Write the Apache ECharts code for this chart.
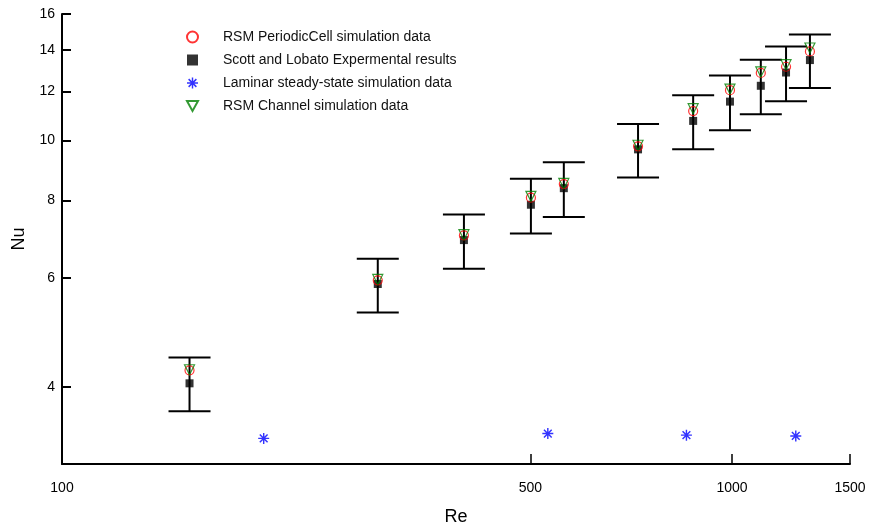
<!DOCTYPE html>
<html>
<head>
<meta charset="utf-8">
<script src="https://cdn.jsdelivr.net/npm/echarts@6/dist/echarts.min.js"></script>
<style>
  html, body { margin: 0; padding: 0; background: #fff; }
  #chart { width: 871px; height: 526px; }
</style>
</head>
<body>
<div id="chart"></div>
<script>
// Reynolds numbers of the measured / simulated cases
const reValues = [155, 296, 398, 501, 561, 724, 875, 993, 1104, 1204, 1307];
// Scott and Lobato experiments, with their uncertainty band
const nuExperiment = [4.05, 5.86, 6.90, 7.87, 8.37, 9.67, 10.75, 11.55, 12.25, 12.87, 13.48];
const nuExpLow = [3.65, 5.27, 6.20, 7.07, 7.52, 8.71, 9.67, 10.38, 11.02, 11.57, 12.15];
const nuExpHigh = [4.46, 6.44, 7.59, 8.67, 9.22, 10.63, 11.83, 12.73, 13.49, 14.18, 14.83];
// RSM simulations
const nuPeriodicCell = [4.25, 5.94, 7.02, 8.08, 8.50, 9.78, 11.15, 12.05, 12.85, 13.15, 13.92];
const nuChannel = [4.26, 5.96, 7.04, 8.12, 8.52, 9.82, 11.25, 12.10, 12.90, 13.25, 14.10];
// Laminar steady-state simulations
const reLaminar = [200, 531, 855, 1245];
const nuLaminar = [3.30, 3.36, 3.34, 3.33];

// Axis ticks
const xTickLabels = [100, 500, 1000, 1500];
const xTickMarks = [500, 1000, 1500];
const yTickLabels = [4, 6, 8, 10, 12, 14, 16];

const font = '"Liberation Sans", Arial, sans-serif';
const asterisk = 'path://M8.7 0H11.3V20H8.7Z M0 8.7H20V11.3H0Z M2 3.9L3.9 2L18 16.1L16.1 18Z M16.1 2L18 3.9L3.9 18L2 16.1Z';
const downTriangle = 'path://M0 0L20 0L10 18Z';

const zip = (a, b) => a.map((v, i) => [v, b[i]]);

const chart = echarts.init(document.getElementById('chart'), null, { renderer: 'canvas' });

chart.setOption({
  animation: false,
  backgroundColor: '#fff',
  grid: { left: 62, right: 21, top: 14, bottom: 62, containLabel: false, outerBoundsMode: 'none' },
  legend: {
    data: [
      { name: 'RSM PeriodicCell simulation data' },
      { name: 'Scott and Lobato Expermental results' },
      { name: 'Laminar steady-state simulation data' },
      { name: 'RSM Channel simulation data', icon: downTriangle }
    ],
    orient: 'vertical',
    left: 186,
    top: 30,
    padding: 0,
    itemWidth: 11,
    itemHeight: 11,
    itemGap: 9,
    textStyle: { fontFamily: font, fontSize: 14, color: '#111', padding: [0, 0, 0, 20] }
  },
  xAxis: {
    type: 'log',
    logBase: 10,
    min: 100,
    max: 1500,
    name: 'Re',
    nameLocation: 'middle',
    nameGap: 44,
    nameTextStyle: { fontFamily: font, fontSize: 18, color: '#000' },
    axisLine: { show: true, lineStyle: { color: '#000', width: 2 } },
    axisTick: { show: true, inside: true, length: 10, customValues: xTickMarks, lineStyle: { color: '#000', width: 1.5 } },
    axisLabel: { show: true, customValues: xTickLabels, margin: 17, fontFamily: font, fontSize: 14, color: '#000', formatter: v => String(Math.round(v)) },
    splitLine: { show: false },
    minorTick: { show: false }
  },
  yAxis: {
    type: 'log',
    logBase: 10,
    min: 3,
    max: 16,
    name: 'Nu',
    nameLocation: 'middle',
    nameRotate: 90,
    nameGap: 29,
    nameTextStyle: { fontFamily: font, fontSize: 18, color: '#000' },
    axisLine: { show: true, lineStyle: { color: '#000', width: 2 } },
    axisTick: { show: true, inside: true, length: 9, customValues: yTickLabels, lineStyle: { color: '#000', width: 2 } },
    axisLabel: { show: true, customValues: yTickLabels, margin: 7, fontFamily: font, fontSize: 14, color: '#000', formatter: v => String(Math.round(v)) },
    splitLine: { show: false },
    minorTick: { show: false }
  },
  series: [
    {
      name: 'errorbars',
      type: 'custom',
      data: reValues.map((re, i) => [re, nuExpLow[i], nuExpHigh[i]]),
      encode: { x: 0, y: [1, 2] },
      z: 1,
      renderItem: function (params, api) {
        const re = api.value(0);
        const lo = api.coord([re, api.value(1)]);
        const hi = api.coord([re, api.value(2)]);
        const hw = 21;
        const style = { stroke: '#000', lineWidth: 2 };
        return {
          type: 'group',
          children: [
            { type: 'line', shape: { x1: lo[0], y1: lo[1], x2: hi[0], y2: hi[1] }, style: style },
            { type: 'line', shape: { x1: lo[0] - hw, y1: lo[1], x2: lo[0] + hw, y2: lo[1] }, style: style },
            { type: 'line', shape: { x1: hi[0] - hw, y1: hi[1], x2: hi[0] + hw, y2: hi[1] }, style: style }
          ]
        };
      }
    },
    {
      name: 'RSM PeriodicCell simulation data',
      type: 'scatter',
      data: zip(reValues, nuPeriodicCell),
      symbol: 'circle',
      symbolSize: 9,
      z: 3,
      itemStyle: { color: 'rgba(255,255,255,0)', borderColor: '#ff0000', borderWidth: 1.2 }
    },
    {
      name: 'Scott and Lobato Expermental results',
      type: 'scatter',
      data: zip(reValues, nuExperiment),
      symbol: 'rect',
      symbolSize: 8,
      z: 2,
      itemStyle: { color: '#000' }
    },
    {
      name: 'Laminar steady-state simulation data',
      type: 'scatter',
      data: zip(reLaminar, nuLaminar),
      symbol: asterisk,
      symbolSize: 11,
      z: 3,
      itemStyle: { color: '#0000ff' }
    },
    {
      name: 'RSM Channel simulation data',
      type: 'scatter',
      data: zip(reValues, nuChannel),
      symbol: 'triangle',
      symbolRotate: 180,
      symbolSize: 10,
      z: 4,
      itemStyle: { color: 'rgba(255,255,255,0)', borderColor: '#008000', borderWidth: 1.2 }
    }
  ]
});
</script>
</body>
</html>
